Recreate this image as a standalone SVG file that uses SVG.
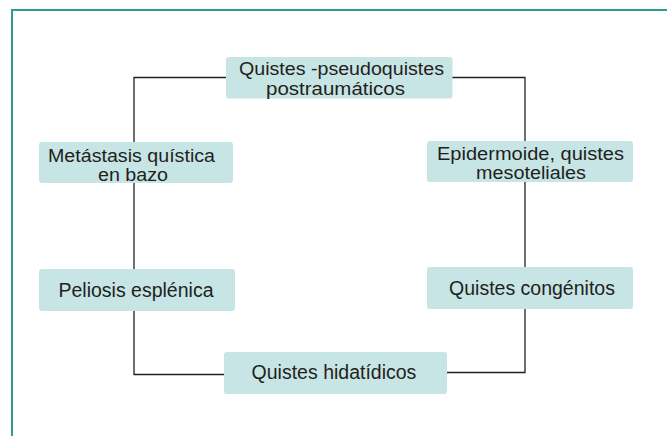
<svg xmlns="http://www.w3.org/2000/svg" width="667" height="436" viewBox="0 0 667 436">
<style>
.box{fill:#c6e5e4;}
.t{font-family:"Liberation Sans",Arial,sans-serif;font-size:19.5px;fill:#231f20;text-anchor:middle;}
.t2{font-size:17.5px;}
.c{fill:none;stroke:#231f20;stroke-width:1.3;}
</style>
<rect width="667" height="436" fill="#ffffff"/>
<path d="M12,436 V10 H667" fill="none" stroke="#2a9d8f" stroke-width="2"/>
<g id="connectors">
<path class="c" d="M226,77.5 H134 V142"/>
<path class="c" d="M134,183 V269"/>
<path class="c" d="M134,311 V374.5 H224"/>
<path class="c" d="M452,77.5 H525 V141"/>
<path class="c" d="M525,182 V267"/>
<path class="c" d="M525,309 V372.5 H447"/>
</g>
<g id="n1">
<rect class="box" x="226" y="57" width="226.5" height="41.5" rx="3"/>
<text class="t t2" x="341.5" y="75.25" textLength="205" lengthAdjust="spacingAndGlyphs">Quistes -pseudoquistes</text>
<text class="t t2" x="335.5" y="94.75" textLength="139" lengthAdjust="spacingAndGlyphs">postraumáticos</text>
</g>
<g id="n2">
<rect class="box" x="39" y="142" width="194" height="41" rx="3"/>
<text class="t t2" x="131.5" y="161.5" textLength="167" lengthAdjust="spacingAndGlyphs">Metástasis quística</text>
<text class="t t2" x="133" y="181" textLength="70" lengthAdjust="spacingAndGlyphs">en bazo</text>
</g>
<g id="n3">
<rect class="box" x="427" y="141" width="206" height="41" rx="3"/>
<text class="t t2" x="530.5" y="159.5" textLength="187" lengthAdjust="spacingAndGlyphs">Epidermoide, quistes</text>
<text class="t t2" x="531" y="179" textLength="110" lengthAdjust="spacingAndGlyphs">mesoteliales</text>
</g>
<g id="n4">
<rect class="box" x="39" y="269" width="196" height="42" rx="3"/>
<text class="t" x="136" y="297">Peliosis esplénica</text>
</g>
<g id="n5">
<rect class="box" x="427" y="267" width="206" height="42" rx="3"/>
<text class="t" x="532" y="295">Quistes congénitos</text>
</g>
<g id="n6">
<rect class="box" x="224" y="352" width="223" height="42" rx="3"/>
<text class="t" x="334" y="379">Quistes hidatídicos</text>
</g>
</svg>
